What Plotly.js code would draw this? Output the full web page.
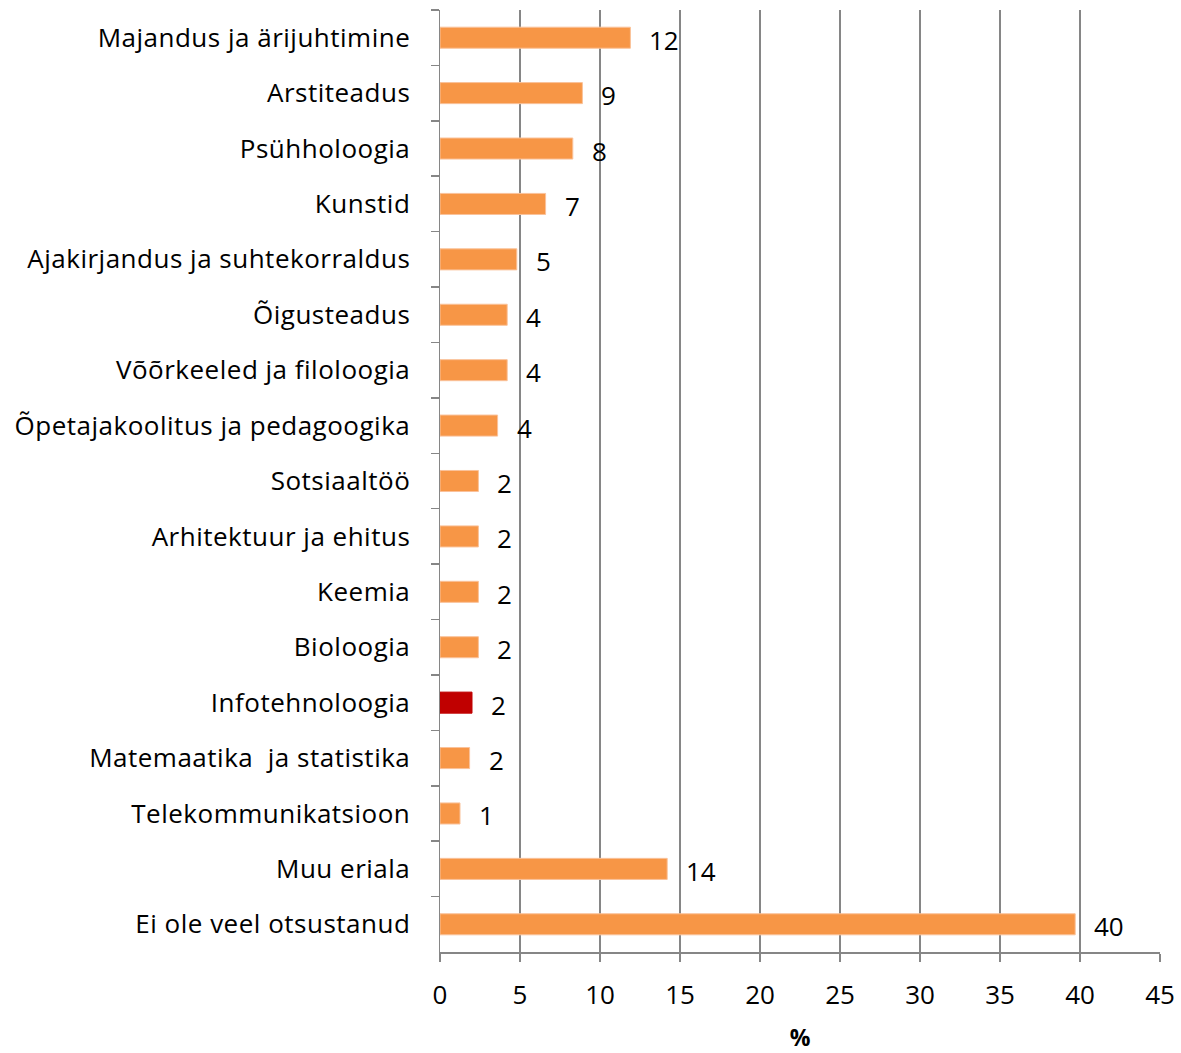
<!DOCTYPE html>
<html>
<head>
<meta charset="utf-8">
<script src="https://cdn.plot.ly/plotly-3.0.1.min.js"></script>
<style>
html,body{margin:0;padding:0;background:#fff;}
#chart{width:1181px;height:1053px;}
#chart .ytick text{letter-spacing:0.5px;}
</style>
</head>
<body>
<div id="chart"></div>
<script>
const categories = [
  "Majandus ja ärijuhtimine",
  "Arstiteadus",
  "Psühholoogia",
  "Kunstid",
  "Ajakirjandus ja suhtekorraldus",
  "Õigusteadus",
  "Võõrkeeled ja filoloogia",
  "Õpetajakoolitus ja pedagoogika",
  "Sotsiaaltöö",
  "Arhitektuur ja ehitus",
  "Keemia",
  "Bioloogia",
  "Infotehnoloogia",
  "Matemaatika  ja statistika",
  "Telekommunikatsioon",
  "Muu eriala",
  "Ei ole veel otsustanud"
];
const values = [11.9, 8.9, 8.3, 6.6, 4.8, 4.2, 4.2, 3.6, 2.4, 2.4, 2.4, 2.4, 2.0, 1.85, 1.25, 14.2, 39.7];
const valueLabels = ["12", "9", "8", "7", "5", "4", "4", "4", "2", "2", "2", "2", "2", "2", "1", "14", "40"];
const highlight = "Infotehnoloogia";
const xTicks = [0, 5, 10, 15, 20, 25, 30, 35, 40, 45];
const xTitle = "%";

const FONT = "'Open Sans', 'Noto Sans', sans-serif";
const colors = categories.map(c => c === highlight ? "#C00000" : "#F79646");
const lineColors = categories.map(c => c === highlight ? "#C00000" : "#FAC29A");

const trace = {
  type: "bar",
  orientation: "h",
  x: values,
  y: categories,
  marker: { color: colors, line: { color: lineColors, width: 1 } },
  hoverinfo: "none"
};

const annotations = categories.map((c, i) => ({
  x: values[i], y: c, xref: "x", yref: "y",
  text: valueLabels[i], showarrow: false,
  xanchor: "left", yanchor: "middle", xshift: 17, yshift: -2,
  font: { family: FONT, size: 26, color: "#000" }
}));

const layout = {
  width: 1181, height: 1053,
  margin: { l: 440, r: 20.5, t: 10, b: 101 },
  paper_bgcolor: "#fff", plot_bgcolor: "#fff",
  showlegend: false,
  bargap: 0.62,
  font: { family: FONT, size: 26, color: "#000" },
  xaxis: {
    range: [0, 45],
    tickvals: xTicks,
    ticktext: xTicks.map(String),
    showgrid: true, gridcolor: "#868686", gridwidth: 1.5,
    zeroline: false,
    showline: true, linecolor: "#868686", linewidth: 1.5,
    ticks: "outside", ticklen: 8, tickwidth: 1.5, tickcolor: "#868686",
    ticklabelstandoff: 11,
    tickfont: { family: FONT, size: 26, color: "#000" },
    title: { text: "<b>" + xTitle + "</b>", font: { family: FONT, size: 23, color: "#000" }, standoff: 32 },
    fixedrange: true
  },
  yaxis: {
    type: "category",
    autorange: "reversed",
    tickson: "boundaries",
    showgrid: false,
    showline: true, linecolor: "#868686", linewidth: 1.5,
    ticks: "outside", ticklen: 8, tickwidth: 1.5, tickcolor: "#868686",
    ticklabelstandoff: 23,
    tickfont: { family: FONT, size: 26, color: "#000" },
    fixedrange: true
  },
  annotations: annotations
};

Plotly.newPlot("chart", [trace], layout, { staticPlot: true, displayModeBar: false });
</script>
</body>
</html>
